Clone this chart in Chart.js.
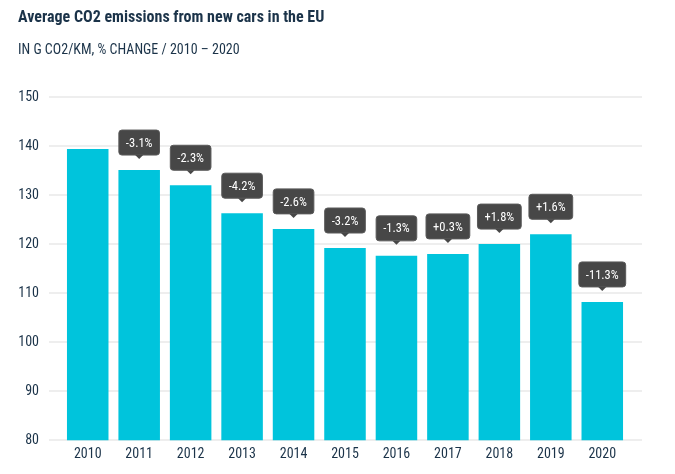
<!DOCTYPE html>
<html>
<head>
<meta charset="utf-8">
<script src="https://cdn.jsdelivr.net/npm/chart.js@4"></script>
<style>
  html, body { margin: 0; padding: 0; background: #fff; }
  #wrap { width: 675px; height: 474px; }
</style>
</head>
<body>
<div id="wrap"><canvas id="co2-chart"></canvas></div>
<script>
// donnees
const years = ['2010', '2011', '2012', '2013', '2014', '2015', '2016', '2017', '2018', '2019', '2020'];
const emissions = [139.4, 135.1, 132.0, 126.3, 123.1, 119.2, 117.6, 118.0, 120.0, 122.0, 108.2];
const changes = ['', '-3.1%', '-2.3%', '-4.2%', '-2.6%', '-3.2%', '-1.3%', '+0.3%', '+1.8%', '+1.6%', '-11.3%'];
const yTicks = [80, 90, 100, 110, 120, 130, 140, 150];

const FONT = '"Roboto Condensed", "Liberation Sans Narrow", "DejaVu Sans Condensed", sans-serif';
const NAVY = '#1b3349';

// lignes de grille plus larges que la zone des barres
const gridPlugin = {
  id: 'wideGrid',
  beforeDatasetsDraw(chart) {
    const ctx = chart.ctx;
    const y = chart.scales.y;
    ctx.save();
    ctx.strokeStyle = '#eeeeee';
    ctx.lineWidth = 2;
    yTicks.forEach(v => {
      const py = Math.round(y.getPixelForValue(v));
      ctx.beginPath();
      ctx.moveTo(49, py);
      ctx.lineTo(642, py);
      ctx.stroke();
    });
    ctx.restore();
  }
};

// etiquettes de variation (bulle avec pointe)
const bubblePlugin = {
  id: 'bubbles',
  afterDatasetsDraw(chart) {
    const ctx = chart.ctx;
    const bars = chart.getDatasetMeta(0).data;
    ctx.save();
    ctx.font = '12.5px ' + FONT;
    ctx.textAlign = 'center';
    ctx.textBaseline = 'middle';
    bars.forEach((bar, i) => {
      const txt = changes[i];
      if (!txt) return;
      const w = Math.max(ctx.measureText(txt).width + 14, 37);
      const h = 25;
      const tip = bar.y - 11;
      const bottom = tip - 4;
      const top = bottom - h;
      const left = bar.x - w / 2;
      ctx.fillStyle = '#474747';
      ctx.strokeStyle = '#5a5a5a';
      ctx.lineWidth = 1;
      ctx.beginPath();
      ctx.roundRect(left, top, w, h, 3);
      ctx.fill();
      ctx.stroke();
      ctx.beginPath();
      ctx.moveTo(bar.x - 4, bottom);
      ctx.lineTo(bar.x, tip);
      ctx.lineTo(bar.x + 4, bottom);
      ctx.closePath();
      ctx.fill();
      ctx.fillStyle = '#ffffff';
      ctx.fillText(txt, bar.x, top + h / 2 + 1);
    });
    ctx.restore();
  }
};

const config = {
  type: 'bar',
  data: {
    labels: years,
    datasets: [{
      label: 'g CO2/km',
      data: emissions,
      backgroundColor: '#00c4dc',
      borderWidth: 0,
      categoryPercentage: 1,
      barPercentage: 0.807
    }]
  },
  options: {
    responsive: true,
    maintainAspectRatio: false,
    animation: false,
    layout: { padding: { left: 18, right: 47, top: 0, bottom: 5 } },
    plugins: {
      legend: { display: false },
      tooltip: { enabled: false },
      title: {
        display: true,
        text: 'Average CO2 emissions from new cars in the EU',
        align: 'start',
        color: NAVY,
        font: { family: FONT, size: 16, weight: 'bold' },
        padding: { top: 8, bottom: 0 }
      },
      subtitle: {
        display: true,
        text: 'IN G CO2/KM, % CHANGE / 2010 \u2013 2020',
        align: 'start',
        color: NAVY,
        font: { family: FONT, size: 14 },
        padding: { top: 15, bottom: 38 }
      }
    },
    scales: {
      x: {
        grid: { display: false, drawTicks: false },
        border: { display: false },
        ticks: { color: NAVY, font: { family: FONT, size: 14 }, padding: 6 }
      },
      y: {
        min: 80,
        max: 150,
        afterFit(scale) { scale.width = 44; },
        afterBuildTicks(scale) { scale.ticks = yTicks.map(v => ({ value: v })); },
        grid: { display: false, drawTicks: false },
        border: { display: false },
        ticks: { color: NAVY, font: { family: FONT, size: 14 }, padding: 23 }
      }
    }
  },
  plugins: [gridPlugin, bubblePlugin]
};

const ctx = document.getElementById('co2-chart').getContext('2d');
new Chart(ctx, config);
</script>
</body>
</html>
